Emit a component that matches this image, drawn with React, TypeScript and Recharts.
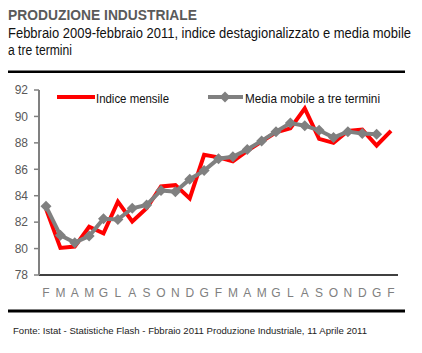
import React from 'react';
import { LineChart, Line, XAxis, YAxis } from 'recharts';

const months = ['F', 'M', 'A', 'M', 'G', 'L', 'A', 'S', 'O', 'N', 'D', 'G', 'F', 'M', 'A', 'M', 'G', 'L', 'A', 'S', 'O', 'N', 'D', 'G', 'F'];
const indiceMensile = [83.0, 80.05, 80.15, 81.65, 81.15, 83.55, 82.05, 83.05, 84.7, 84.8, 83.8, 87.1, 86.9, 86.6, 87.4, 88.1, 88.8, 89.1, 90.6, 88.3, 88.0, 88.9, 89.0, 87.8, 88.9];
const mediaMobile: (number | null)[] = [83.2, 81.0, 80.45, 80.95, 82.25, 82.2, 83.05, 83.3, 84.4, 84.3, 85.25, 85.9, 86.8, 86.95, 87.5, 88.15, 88.85, 89.5, 89.3, 88.95, 88.4, 88.85, 88.7, 88.65, null];
const yTicks = [78, 80, 82, 84, 86, 88, 90, 92];

const data = months.map((m, i) => ({
  key: 'k' + i,
  indice: indiceMensile[i],
  media: mediaMobile[i],
}));

const Diamond = (props: any) => {
  const { cx, cy, value } = props;
  if (cx == null || cy == null || value == null) return null;
  const r = 5.5;
  return (
    <polygon
      points={`${cx},${cy - r} ${cx + r},${cy} ${cx},${cy + r} ${cx - r},${cy}`}
      fill="#808080"
      stroke="none"
    />
  );
};

const SX = 0.84;

export default function App() {
  return (
    <div
      style={{
        position: 'absolute',
        left: 0,
        top: 0,
        width: 422,
        height: 353,
        background: '#fff',
        fontFamily: '"Liberation Sans", Arial, sans-serif',
      }}
    >
      <LineChart width={422} height={353} data={data} margin={{ top: 90, right: 24, bottom: 48, left: 9 }}>
        <XAxis
          dataKey="key"
          scale="point"
          padding={{ left: 7, right: 7 }}
          interval={0}
          tickFormatter={(_v: any, i: number) => months[i]}
          tickLine={false}
          axisLine={{ stroke: '#404040', strokeWidth: 2 }}
          tick={{ fill: '#808080', fontSize: 12 }}
          tickMargin={7}
          height={30}
        />
        <YAxis
          domain={[78, 92]}
          ticks={yTicks}
          interval={0}
          width={30}
          axisLine={{ stroke: '#808080', strokeWidth: 2 }}
          tickLine={{ stroke: '#808080', strokeWidth: 1.5 }}
          tickSize={5}
          tickMargin={6}
          tick={{ fill: '#595959', fontSize: 12 }}
        />
        <Line
          dataKey="indice"
          stroke="#FF0000"
          strokeWidth={4}
          dot={false}
          type="linear"
          isAnimationActive={false}
        />
        <Line
          dataKey="media"
          stroke="#808080"
          strokeWidth={4}
          dot={<Diamond />}
          type="linear"
          isAnimationActive={false}
        />
      </LineChart>
      <svg
        width={422}
        height={353}
        style={{ position: 'absolute', left: 0, top: 0, pointerEvents: 'none' }}
      >
        <text x={8} y={20} fontSize={14} fontWeight="bold" fill="#5a5a5a" textLength={189} lengthAdjust="spacingAndGlyphs">
          PRODUZIONE INDUSTRIALE
        </text>
        <g transform={`scale(${SX} 1)`}>
          <text x={8 / SX} y={38} fontSize={15} fill="#111" textLength={403 / SX} lengthAdjust="spacingAndGlyphs">
            Febbraio 2009-febbraio 2011, indice destagionalizzato e media mobile
          </text>
          <text x={8 / SX} y={55} fontSize={15} fill="#111" textLength={64 / SX} lengthAdjust="spacingAndGlyphs">
            a tre termini
          </text>
        </g>
        <rect x={8} y={70.5} width={397} height={2.5} fill="#000" />
        <line x1={57} y1={97} x2={95} y2={97} stroke="#FF0000" strokeWidth={4} />
        <text x={96} y={102.5} fontSize={13} fill="#111" textLength={73} lengthAdjust="spacingAndGlyphs">
          Indice mensile
        </text>
        <line x1={208} y1={97} x2={243} y2={97} stroke="#808080" strokeWidth={4} />
        <polygon points="225,91.5 230.5,97 225,102.5 219.5,97" fill="#808080" />
        <text x={245} y={102.5} fontSize={13} fill="#111" textLength={135} lengthAdjust="spacingAndGlyphs">
          Media mobile a tre termini
        </text>
        <rect x={8} y={309.5} width={397} height={3} fill="#000" />
        <text x={13} y={334} fontSize={9} fill="#222" textLength={354} lengthAdjust="spacingAndGlyphs">
          Fonte: Istat - Statistiche Flash - Fbbraio 2011 Produzione Industriale, 11 Aprile 2011
        </text>
      </svg>
    </div>
  );
}
